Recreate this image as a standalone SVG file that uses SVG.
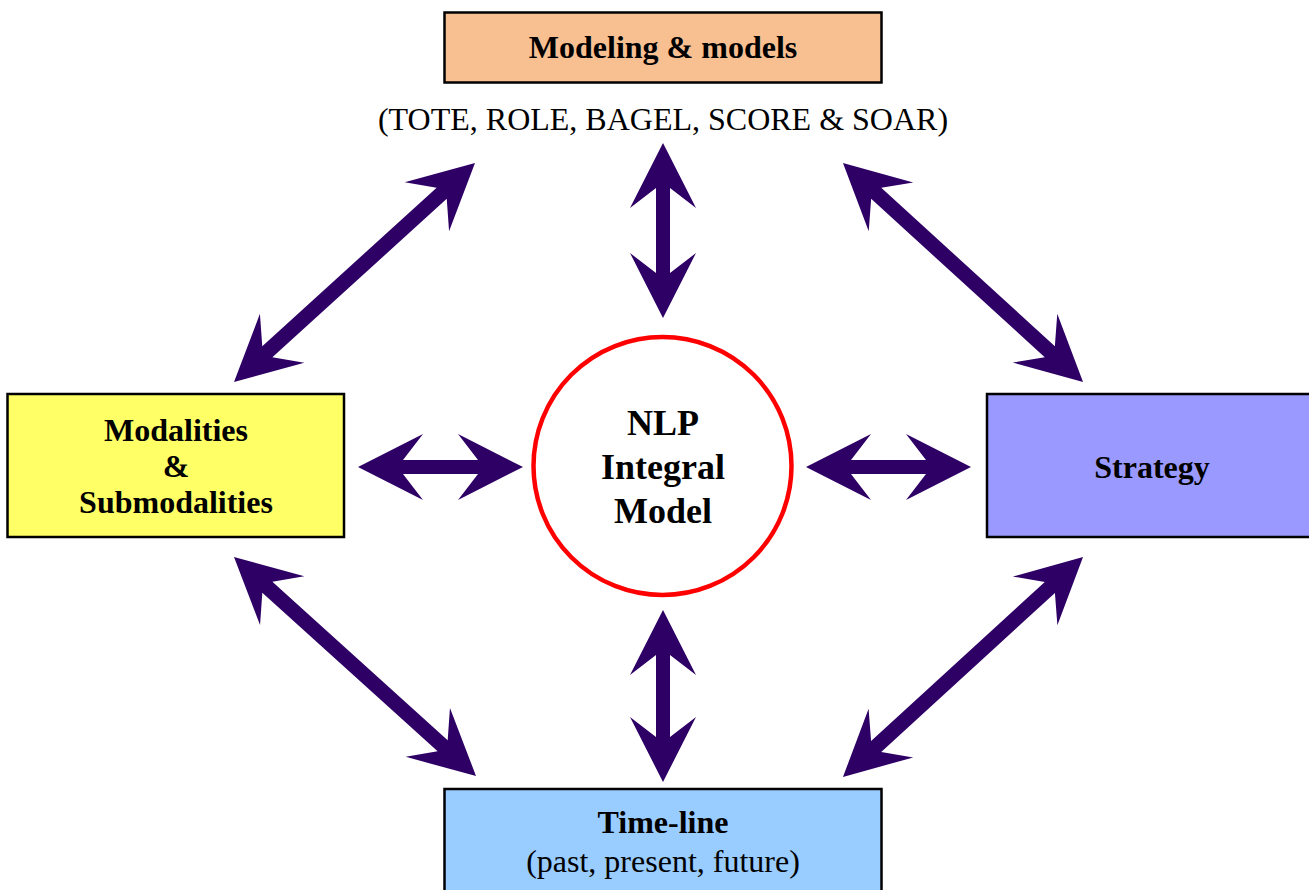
<svg xmlns="http://www.w3.org/2000/svg" width="1309" height="890" viewBox="0 0 1309 890">
<style>
.box{stroke:#000;stroke-width:2.5}
.b{font-family:"Liberation Serif","Times New Roman",serif;font-weight:bold;font-size:32px;text-anchor:middle;fill:#000}
.r{font-family:"Liberation Serif","Times New Roman",serif;font-size:32px;text-anchor:middle;fill:#000}
.arr{fill:#2e0066}
</style>
<rect width="1309" height="890" fill="#fff"/>
<g id="connectors">
<path class="arr" transform="translate(440.5,467)" d="M-82.5 0 L-17.5 -33 L-37.5 -7 L37.5 -7 L17.5 -33 L82.5 0 L17.5 33 L37.5 7 L-37.5 7 L-17.5 33 Z"/>
<path class="arr" transform="translate(888.5,467)" d="M-82.5 0 L-17.5 -33 L-37.5 -7 L37.5 -7 L17.5 -33 L82.5 0 L17.5 33 L37.5 7 L-37.5 7 L-17.5 33 Z"/>
<path class="arr" transform="translate(663,230.5) rotate(90)" d="M-87.5 0 L-22.5 -33 L-42.5 -7 L42.5 -7 L22.5 -33 L87.5 0 L22.5 33 L42.5 7 L-42.5 7 L-22.5 33 Z"/>
<path class="arr" transform="translate(663,696) rotate(90)" d="M-86 0 L-21 -33 L-41 -7 L41 -7 L21 -33 L86 0 L21 33 L41 7 L-41 7 L-21 33 Z"/>
<path class="arr" transform="translate(354.5,272.5) rotate(-42.26)" d="M-162.8 0 L-97.8 -33 L-117.8 -7.5 L117.8 -7.5 L97.8 -33 L162.8 0 L97.8 33 L117.8 7.5 L-117.8 7.5 L-97.8 33 Z"/>
<path class="arr" transform="translate(963,272.5) rotate(42.38)" d="M-162.5 0 L-97.5 -33 L-117.5 -7.5 L117.5 -7.5 L97.5 -33 L162.5 0 L97.5 33 L117.5 7.5 L-117.5 7.5 L-97.5 33 Z"/>
<path class="arr" transform="translate(355,666.5) rotate(42.14)" d="M-163.2 0 L-98.2 -33 L-118.2 -7.5 L118.2 -7.5 L98.2 -33 L163.2 0 L98.2 33 L118.2 7.5 L-118.2 7.5 L-98.2 33 Z"/>
<path class="arr" transform="translate(963,667) rotate(-42.5)" d="M-162.8 0 L-97.8 -33 L-117.8 -7.5 L117.8 -7.5 L97.8 -33 L162.8 0 L97.8 33 L117.8 7.5 L-117.8 7.5 L-97.8 33 Z"/>
</g>
<g id="modeling">
<rect class="box" x="444.5" y="12.5" width="437" height="70" fill="#f8bf90"/>
<text class="b" x="663" y="58">Modeling &amp; models</text>
<text class="r" x="663" y="130">(TOTE, ROLE, BAGEL, SCORE &amp; SOAR)</text>
</g>
<g id="modalities">
<rect class="box" x="7.5" y="394" width="336.5" height="143" fill="#ffff66"/>
<text class="b" x="176" y="441">Modalities</text>
<text class="b" x="176" y="477">&amp;</text>
<text class="b" x="176" y="513">Submodalities</text>
</g>
<g id="nlp">
<circle cx="662.5" cy="466" r="129" fill="#fff" stroke="#ff0000" stroke-width="4.5"/>
<text class="b" x="663" y="435" style="font-size:36px">NLP</text>
<text class="b" x="663" y="479" style="font-size:36px">Integral</text>
<text class="b" x="663" y="523" style="font-size:36px">Model</text>
</g>
<g id="strategy">
<rect class="box" x="987" y="394" width="330" height="143" fill="#9999ff"/>
<text class="b" x="1152" y="478">Strategy</text>
</g>
<g id="timeline">
<rect class="box" x="444.5" y="789" width="437" height="110" fill="#99ccff"/>
<text class="b" x="663" y="833">Time-line</text>
<text class="r" x="663" y="872">(past, present, future)</text>
</g>
</svg>
